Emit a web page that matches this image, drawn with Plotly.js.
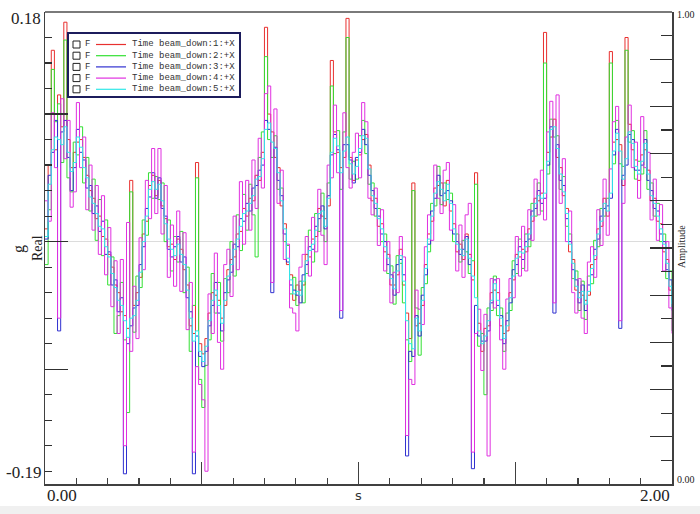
<!DOCTYPE html>
<html>
<head>
<meta charset="utf-8">
<script src="https://cdn.plot.ly/plotly-3.0.1.min.js"></script>
<style>html,body{margin:0;padding:0;background:#fff;}#chart{width:700px;height:514px;}</style>
</head>
<body>
<div id="chart"></div>
<script>
// Sample interval (s)
const dt = 0.01;

const seriesNames = ["Time beam_down:1:+X","Time beam_down:2:+X","Time beam_down:3:+X","Time beam_down:4:+X","Time beam_down:5:+X"];
const seriesColors = ["#e8302f","#33e033","#3030d0","#e030e0","#30e8e8"];

const red = [
0.010,0.060,0.150,0.072,0.115,0.090,0.172,0.080,0.058,0.070,
0.078,0.080,0.066,0.052,0.040,0.034,0.018,0.020,0.004,0.002,
-0.010,-0.020,-0.034,-0.040,-0.055,-0.058,-0.068,0.048,-0.050,-0.040,
-0.028,0.006,0.016,0.044,0.052,0.036,0.048,0.028,0.018,-0.004,
-0.002,-0.014,0.002,-0.006,-0.022,-0.034,-0.066,-0.072,0.062,-0.080,
-0.088,-0.076,-0.056,-0.040,-0.042,-0.046,-0.060,-0.050,-0.022,-0.014,
-0.012,0.006,0.008,0.026,0.020,0.034,0.032,0.052,0.048,0.070,
0.168,0.100,0.086,0.066,0.058,0.028,0.014,-0.018,-0.026,-0.046,
-0.034,-0.038,-0.034,-0.010,-0.012,0.002,0.004,0.026,0.020,0.018,
0.028,0.142,0.086,0.070,0.058,0.066,0.175,0.066,0.048,0.064,
0.068,0.080,0.084,0.060,0.032,0.034,0.012,0.014,-0.008,-0.010,
-0.034,-0.034,-0.026,-0.006,-0.034,-0.056,-0.076,0.046,-0.066,-0.064,
-0.050,-0.018,0.006,0.016,0.042,0.044,0.046,0.028,0.048,0.024,
0.014,-0.008,-0.002,-0.014,0.006,-0.010,-0.030,0.054,-0.064,-0.086,
-0.068,-0.066,-0.040,-0.038,-0.040,-0.066,-0.072,-0.070,-0.040,-0.030,
-0.010,-0.012,-0.006,-0.008,0.010,0.016,0.034,0.032,0.038,0.164,
0.070,0.082,0.096,0.066,0.058,0.036,0.026,-0.008,-0.014,-0.038,
-0.040,-0.042,-0.046,-0.042,-0.018,-0.014,0.010,0.012,0.034,0.020,
0.149,0.078,0.080,0.076,0.044,0.160,0.092,0.072,0.064,0.048,
0.068,0.072,0.056,0.032,0.034,0.016,0.014,-0.008,-0.014,-0.038,
-0.046];

const green = [
-0.018,0.025,0.135,0.094,0.108,0.062,0.158,0.050,0.039,0.078,
0.068,0.090,0.046,0.066,0.024,0.049,0.001,0.033,-0.011,0.017,
-0.034,-0.012,-0.072,-0.058,-0.032,-0.077,-0.134,0.039,-0.071,-0.027,
-0.036,0.017,0.005,0.054,0.034,0.051,0.033,0.046,0.000,0.017,
-0.023,0.004,-0.016,0.008,-0.040,-0.020,-0.086,-0.050,0.050,-0.108,
-0.130,-0.097,-0.077,-0.025,-0.056,-0.032,-0.078,-0.029,-0.040,0.000,
-0.027,0.021,-0.007,0.037,0.009,0.045,0.021,-0.012,0.066,0.086,
0.145,0.080,0.066,0.083,0.041,0.042,0.000,-0.003,-0.041,-0.028,
-0.050,-0.031,-0.048,-0.025,0.009,-0.016,0.022,0.008,0.038,0.000,
0.046,0.122,0.069,0.087,0.041,0.086,0.160,0.049,0.063,0.049,
0.083,0.095,0.069,0.045,0.046,0.020,0.026,0.000,0.006,-0.025,
-0.019,-0.049,-0.011,-0.017,-0.048,-0.077,-0.094,0.040,-0.052,-0.089,
-0.036,-0.033,-0.008,0.030,0.028,0.059,0.029,0.046,0.033,0.038,
0.000,0.006,-0.016,0.001,-0.008,-0.025,-0.015,0.045,-0.082,-0.072,
-0.120,-0.052,-0.054,-0.027,-0.058,-0.052,-0.086,-0.056,-0.054,-0.015,
-0.025,0.002,-0.021,0.006,-0.004,0.030,0.020,0.046,0.024,0.140,
0.053,0.096,0.082,0.083,0.041,0.051,0.012,0.006,-0.029,-0.023,
-0.054,-0.031,-0.061,-0.027,-0.033,0.001,-0.004,0.026,0.020,0.034,
0.140,0.061,0.095,0.061,0.059,0.150,0.078,0.087,0.049,0.063,
0.053,0.087,0.041,0.046,0.020,0.030,0.000,0.006,-0.029,-0.023,
-0.070];

const blue = [
0.002,0.052,0.070,0.095,-0.070,0.086,0.095,0.066,0.040,0.058,
0.088,0.070,0.064,0.042,0.044,0.022,0.028,0.008,0.016,-0.010,
-0.008,-0.034,-0.030,-0.055,-0.044,-0.182,-0.080,-0.066,-0.052,-0.050,
-0.018,-0.004,0.026,0.035,0.054,0.034,0.050,0.026,0.020,-0.006,
-0.012,-0.004,0.004,-0.016,-0.012,-0.044,-0.055,-0.182,-0.074,-0.090,
-0.098,-0.086,-0.066,-0.050,-0.032,-0.056,-0.070,-0.040,-0.030,-0.024,
-0.002,-0.004,0.018,0.016,0.030,0.024,0.042,0.044,0.056,0.060,
0.095,0.088,-0.040,0.074,0.048,0.036,0.006,-0.016,-0.034,-0.038,
-0.042,-0.048,-0.026,-0.018,-0.004,-0.006,0.012,0.018,0.028,0.010,
0.036,0.068,0.084,0.072,-0.060,0.076,0.076,0.064,0.046,0.066,
0.070,0.088,0.076,0.052,0.040,0.026,0.020,0.006,0.000,-0.018,
-0.026,-0.042,-0.018,-0.014,-0.026,-0.168,-0.086,-0.090,-0.058,-0.074,
-0.042,-0.026,-0.002,0.024,0.034,0.052,0.036,0.038,0.040,0.032,
0.006,0.000,-0.010,-0.006,0.004,-0.018,-0.178,-0.050,-0.074,-0.078,
-0.078,-0.070,-0.048,-0.030,-0.050,-0.058,-0.080,-0.062,-0.048,-0.022,
-0.018,-0.004,-0.014,0.000,0.002,0.024,0.026,0.040,0.030,0.034,
0.060,0.090,-0.056,0.076,0.048,0.044,0.018,0.000,-0.022,-0.030,
-0.048,-0.034,-0.054,-0.034,-0.026,-0.006,0.002,0.020,0.026,0.028,
0.034,0.068,0.088,-0.068,0.052,0.060,0.084,0.080,0.056,0.056,
0.060,0.080,0.048,0.040,0.026,0.024,0.006,0.000,-0.022,-0.030,
-0.054];

const magenta = [
0.032,0.016,0.101,0.058,-0.060,0.112,0.065,0.095,0.027,0.039,
0.109,0.058,0.082,0.025,0.060,0.009,0.044,-0.010,0.036,-0.026,
0.011,-0.051,-0.015,-0.072,-0.014,-0.160,0.015,-0.086,-0.035,-0.076,
0.003,-0.022,0.048,0.018,0.073,0.022,0.073,0.006,0.044,-0.028,
0.013,-0.035,0.024,-0.039,0.007,-0.069,-0.032,-0.165,-0.098,-0.112,
-0.124,-0.180,-0.041,-0.072,-0.009,-0.079,-0.100,-0.018,-0.006,-0.043,
0.020,-0.022,0.047,-0.002,0.048,0.009,0.064,0.026,0.081,0.042,
0.116,0.122,-0.032,0.104,0.030,0.056,-0.014,-0.002,-0.052,-0.056,
-0.070,-0.020,-0.010,0.004,-0.027,0.019,-0.008,0.041,0.005,-0.018,
0.060,0.050,0.107,0.054,-0.054,0.101,0.058,0.042,0.070,0.085,
0.050,0.109,0.094,0.034,0.021,0.042,-0.003,0.025,-0.023,0.000,
-0.048,-0.024,-0.040,0.004,-0.012,-0.152,-0.108,-0.112,-0.038,-0.053,
-0.065,-0.004,0.021,0.001,0.060,0.034,0.022,0.056,0.062,0.009,
0.029,-0.023,0.013,-0.028,0.021,0.030,-0.165,-0.072,-0.053,-0.101,
-0.057,-0.168,-0.029,-0.052,-0.029,-0.077,-0.100,-0.045,-0.029,-0.044,
0.004,-0.027,0.012,-0.023,0.025,0.001,0.049,0.021,0.056,0.017,
0.086,0.110,-0.048,0.115,0.030,0.065,0.000,0.024,-0.040,-0.056,
-0.029,-0.060,-0.072,-0.016,-0.004,-0.028,0.025,-0.003,0.049,0.005,
0.057,0.094,0.106,-0.062,0.030,0.082,0.107,0.058,0.078,0.034,
0.098,0.058,0.070,0.017,0.049,0.001,0.029,-0.023,0.000,-0.052,
-0.072];

const cyan = [
0.004,0.045,0.072,0.082,0.080,0.076,0.090,0.070,0.055,0.062,
0.082,0.074,0.058,0.050,0.035,0.030,0.022,0.012,0.010,-0.004,
-0.012,-0.025,-0.036,-0.046,-0.050,-0.062,-0.075,-0.060,-0.058,-0.046,
-0.024,0.000,0.020,0.041,0.047,0.041,0.045,0.032,0.014,0.002,
-0.006,-0.011,-0.002,-0.010,-0.018,-0.038,-0.060,-0.078,-0.070,-0.086,
-0.094,-0.082,-0.062,-0.046,-0.038,-0.050,-0.064,-0.046,-0.027,-0.018,
-0.006,0.002,0.012,0.022,0.024,0.030,0.036,0.049,0.051,0.065,
0.088,0.093,0.078,0.073,0.054,0.032,0.010,-0.013,-0.030,-0.041,
-0.039,-0.042,-0.031,-0.015,-0.007,-0.002,0.009,0.022,0.024,0.012,
0.034,0.070,0.081,0.075,0.054,0.071,0.082,0.061,0.053,0.059,
0.073,0.083,0.081,0.057,0.036,0.030,0.018,0.010,-0.004,-0.013,
-0.029,-0.037,-0.023,-0.011,-0.031,-0.062,-0.080,-0.084,-0.060,-0.070,
-0.046,-0.021,0.002,0.020,0.038,0.047,0.041,0.032,0.045,0.030,
0.010,-0.002,-0.006,-0.011,0.002,-0.013,-0.027,-0.044,-0.070,-0.080,
-0.074,-0.062,-0.046,-0.033,-0.046,-0.060,-0.076,-0.066,-0.044,-0.027,
-0.013,-0.008,-0.009,-0.004,0.006,0.020,0.030,0.036,0.034,0.038,
0.063,0.088,0.090,0.073,0.053,0.039,0.022,-0.002,-0.017,-0.035,
-0.044,-0.039,-0.049,-0.039,-0.021,-0.011,0.006,0.016,0.030,0.024,
0.038,0.071,0.085,0.071,0.049,0.065,0.086,0.077,0.059,0.053,
0.063,0.077,0.053,0.036,0.030,0.020,0.010,-0.002,-0.017,-0.035,
-0.049];

const yRange = [-0.19, 0.18];
const xRange = [0, 2];
const y2Range = [0, 1];
const yTickLabels = ["0.18", "-0.19"];
const xTickLabels = ["0.00", "2.00"];
const y2TickLabels = ["1.00", "0.00"];

const allSeries = [red, green, blue, magenta, cyan];
const time = red.map((_, i) => +(i * dt).toFixed(2));

const traces = allSeries.map((vals, k) => ({
  x: time, y: vals, type: 'scatter', mode: 'lines', name: seriesNames[k],
  line: {color: seriesColors[k], width: 1, shape: 'hv'}, showlegend: false, hoverinfo: 'skip'
}));
// empty trace so the right-hand Amplitude axis is drawn
traces.push({x: [], y: [], type: 'scatter', mode: 'lines', yaxis: 'y2', showlegend: false, hoverinfo: 'skip'});

// pixel -> paper helpers (plot area 45..672 x 12..484)
const L = 45, R = 672, T = 12, B = 484;
const fx = p => (p - L) / (R - L);
const fy = p => (B - p) / (B - T);

const serif = 'Liberation Serif, DejaVu Serif, serif';
const mono = 'Liberation Mono, DejaVu Sans Mono, monospace';

const annotations = [
  {text: yTickLabels[0], x: fx(43), y: fy(19), xanchor: 'right', yanchor: 'middle', font: {family: serif, size: 17, color: '#222'}},
  {text: yTickLabels[1], x: fx(43), y: fy(472), xanchor: 'right', yanchor: 'middle', font: {family: serif, size: 17, color: '#222'}},
  {text: xTickLabels[0], x: fx(45), y: fy(495), xanchor: 'left', yanchor: 'middle', font: {family: serif, size: 17, color: '#222'}},
  {text: xTickLabels[1], x: fx(672), y: fy(495), xanchor: 'right', yanchor: 'middle', font: {family: serif, size: 17, color: '#222'}},
  {text: 's', x: fx(358), y: fy(496), xanchor: 'center', yanchor: 'middle', font: {family: 'DejaVu Sans, sans-serif', size: 13, color: '#333'}},
  {text: 'g', x: fx(19), y: fy(249), xanchor: 'center', yanchor: 'middle', textangle: -90, font: {family: serif, size: 16, color: '#222'}},
  {text: 'Real', x: fx(37), y: fy(248), xanchor: 'center', yanchor: 'middle', textangle: -90, font: {family: serif, size: 14, color: '#222'}},
  {text: y2TickLabels[0], x: fx(675), y: fy(15), xanchor: 'left', yanchor: 'middle', font: {family: serif, size: 10, color: '#222'}},
  {text: y2TickLabels[1], x: fx(675), y: fy(479), xanchor: 'left', yanchor: 'middle', font: {family: serif, size: 10, color: '#222'}},
  {text: 'Amplitude', x: fx(681), y: fy(247), xanchor: 'center', yanchor: 'middle', textangle: -90, font: {family: serif, size: 10, color: '#222'}}
].map(a => Object.assign({xref: 'paper', yref: 'paper', showarrow: false}, a));

const shapes = [
  {type: 'rect', xref: 'paper', yref: 'paper', x0: fx(0), x1: fx(700), y0: fy(514), y1: fy(506), fillcolor: '#f0f0f0', line: {width: 0}, layer: 'below'},
  {type: 'line', xref: 'paper', yref: 'paper', x0: 0, x1: 1, y0: 1, y1: 1, line: {color: '#7a7a7a', width: 2}},
  {type: 'rect', xref: 'paper', yref: 'paper', x0: fx(68), x1: fx(240), y0: fy(97), y1: fy(33), fillcolor: '#ffffff', line: {color: '#1c1c5c', width: 2}, layer: 'above'}
];

seriesNames.forEach((nm, k) => {
  const yc = 44.5 + 11.2 * k;
  shapes.push({type: 'rect', xref: 'paper', yref: 'paper', x0: fx(73), x1: fx(80), y0: fy(yc + 3.5), y1: fy(yc - 3.5), line: {color: '#222', width: 1}, fillcolor: '#fff', layer: 'above'});
  shapes.push({type: 'line', xref: 'paper', yref: 'paper', x0: fx(96), x1: fx(126), y0: fy(yc), y1: fy(yc), line: {color: seriesColors[k], width: 1.2}, layer: 'above'});
  annotations.push({text: 'F', xref: 'paper', yref: 'paper', x: fx(83), y: fy(yc), xanchor: 'left', yanchor: 'middle', showarrow: false, font: {family: mono, size: 9, color: '#333'}});
  annotations.push({text: nm, xref: 'paper', yref: 'paper', x: fx(130), y: fy(yc), xanchor: 'left', yanchor: 'middle', showarrow: false, font: {family: mono, size: 9, color: '#333'}});
});

const layout = {
  width: 700, height: 514,
  margin: {l: L, r: 700 - R, t: T, b: 514 - B, pad: 0},
  paper_bgcolor: '#ffffff', plot_bgcolor: '#ffffff',
  showlegend: false,
  xaxis: {
    range: xRange, showline: true, linecolor: '#404040', linewidth: 1.5,
    ticks: 'inside', tick0: 0, dtick: 0.5, ticklen: 22, tickcolor: '#404040', tickwidth: 1.2,
    minor: {ticks: 'inside', dtick: 0.1, ticklen: 6, tickcolor: '#404040', tickwidth: 1.2},
    showticklabels: false, showgrid: false, zeroline: false, layer: 'above traces', fixedrange: true
  },
  yaxis: {
    range: yRange, showline: true, linecolor: '#404040', linewidth: 1.5,
    ticks: 'inside', tick0: 0, dtick: 0.1, ticklen: 23, tickcolor: '#303030', tickwidth: 1.2,
    minor: {ticks: 'inside', dtick: 0.02, ticklen: 7, tickcolor: '#303030', tickwidth: 1.2},
    showticklabels: false, showgrid: false, zeroline: true, zerolinecolor: '#dcdcdc', zerolinewidth: 1,
    layer: 'above traces', fixedrange: true
  },
  yaxis2: {
    overlaying: 'y', side: 'right', anchor: 'x', range: y2Range,
    showline: true, linecolor: '#404040', linewidth: 1.5,
    ticks: 'inside', tick0: 0, dtick: 0.1, ticklen: 22, tickcolor: '#303030', tickwidth: 1.2,
    minor: {ticks: 'inside', dtick: 0.05, ticklen: 11, tickcolor: '#303030', tickwidth: 1.2},
    showticklabels: false, showgrid: false, zeroline: false, layer: 'above traces', fixedrange: true
  },
  annotations: annotations,
  shapes: shapes
};

Plotly.newPlot('chart', traces, layout, {staticPlot: true, displayModeBar: false});
</script>
</body>
</html>
